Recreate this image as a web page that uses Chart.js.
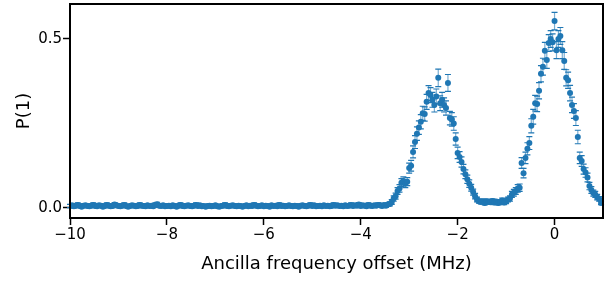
<!DOCTYPE html>
<html>
<head>
<meta charset="utf-8">
<script src="https://cdn.jsdelivr.net/npm/chart.js@4/dist/chart.umd.min.js"></script>
<style>
  body { margin: 0; background: #fff; }
</style>
</head>
<body>
<canvas id="myChart" width="616" height="282"></canvas>
<script>
// ancilla frequency offset (MHz), one row per 0.4 MHz
const freqMHz = [
  -10.00, -9.96, -9.92, -9.88, -9.84, -9.80, -9.76, -9.72, -9.68, -9.64,
  -9.60, -9.56, -9.52, -9.48, -9.44, -9.40, -9.36, -9.32, -9.28, -9.24,
  -9.20, -9.16, -9.12, -9.08, -9.04, -9.00, -8.96, -8.92, -8.88, -8.84,
  -8.80, -8.76, -8.72, -8.68, -8.64, -8.60, -8.56, -8.52, -8.48, -8.44,
  -8.40, -8.36, -8.32, -8.28, -8.24, -8.20, -8.16, -8.12, -8.08, -8.04,
  -8.00, -7.96, -7.92, -7.88, -7.84, -7.80, -7.76, -7.72, -7.68, -7.64,
  -7.60, -7.56, -7.52, -7.48, -7.44, -7.40, -7.36, -7.32, -7.28, -7.24,
  -7.20, -7.16, -7.12, -7.08, -7.04, -7.00, -6.96, -6.92, -6.88, -6.84,
  -6.80, -6.76, -6.72, -6.68, -6.64, -6.60, -6.56, -6.52, -6.48, -6.44,
  -6.40, -6.36, -6.32, -6.28, -6.24, -6.20, -6.16, -6.12, -6.08, -6.04,
  -6.00, -5.96, -5.92, -5.88, -5.84, -5.80, -5.76, -5.72, -5.68, -5.64,
  -5.60, -5.56, -5.52, -5.48, -5.44, -5.40, -5.36, -5.32, -5.28, -5.24,
  -5.20, -5.16, -5.12, -5.08, -5.04, -5.00, -4.96, -4.92, -4.88, -4.84,
  -4.80, -4.76, -4.72, -4.68, -4.64, -4.60, -4.56, -4.52, -4.48, -4.44,
  -4.40, -4.36, -4.32, -4.28, -4.24, -4.20, -4.16, -4.12, -4.08, -4.04,
  -4.00, -3.96, -3.92, -3.88, -3.84, -3.80, -3.76, -3.72, -3.68, -3.64,
  -3.60, -3.56, -3.52, -3.48, -3.44, -3.40, -3.36, -3.32, -3.28, -3.24,
  -3.20, -3.16, -3.12, -3.08, -3.04, -3.00, -2.96, -2.92, -2.88, -2.84,
  -2.80, -2.76, -2.72, -2.68, -2.64, -2.60, -2.56, -2.52, -2.48, -2.44,
  -2.40, -2.36, -2.32, -2.28, -2.24, -2.20, -2.16, -2.12, -2.08, -2.04,
  -2.00, -1.96, -1.92, -1.88, -1.84, -1.80, -1.76, -1.72, -1.68, -1.64,
  -1.60, -1.56, -1.52, -1.48, -1.44, -1.40, -1.36, -1.32, -1.28, -1.24,
  -1.20, -1.16, -1.12, -1.08, -1.04, -1.00, -0.96, -0.92, -0.88, -0.84,
  -0.80, -0.76, -0.72, -0.68, -0.64, -0.60, -0.56, -0.52, -0.48, -0.44,
  -0.40, -0.36, -0.32, -0.28, -0.24, -0.20, -0.16, -0.12, -0.08, -0.04,
  0.00, 0.04, 0.08, 0.12, 0.16, 0.20, 0.24, 0.28, 0.32, 0.36,
  0.40, 0.44, 0.48, 0.52, 0.56, 0.60, 0.64, 0.68, 0.72, 0.76,
  0.80, 0.84, 0.88, 0.92, 0.96
];

// measured excited-state probability P(1)
const p1 = [
  0.006, 0.008, 0.005, 0.007, 0.009, 0.006, 0.004, 0.007, 0.008, 0.006,
  0.005, 0.007, 0.009, 0.006, 0.005, 0.008, 0.007, 0.004, 0.006, 0.009,
  0.007, 0.005, 0.006, 0.010, 0.008, 0.006, 0.005, 0.007, 0.009, 0.006,
  0.004, 0.006, 0.008, 0.007, 0.005, 0.006, 0.009, 0.007, 0.006, 0.005,
  0.008, 0.006, 0.007, 0.005, 0.009, 0.011, 0.007, 0.006, 0.008, 0.005,
  0.006, 0.007, 0.005, 0.008, 0.006, 0.004, 0.007, 0.009, 0.006, 0.005,
  0.007, 0.008, 0.006, 0.005, 0.007, 0.009, 0.006, 0.008, 0.005, 0.006,
  0.004, 0.006, 0.007, 0.005, 0.006, 0.008, 0.005, 0.004, 0.006, 0.007,
  0.009, 0.006, 0.005, 0.007, 0.008, 0.006, 0.005, 0.007, 0.006, 0.004,
  0.006, 0.008, 0.005, 0.007, 0.006, 0.009, 0.007, 0.005, 0.006, 0.008,
  0.005, 0.007, 0.006, 0.004, 0.008, 0.006, 0.007, 0.005, 0.009, 0.006,
  0.007, 0.005, 0.006, 0.008, 0.006, 0.005, 0.007, 0.006, 0.004, 0.007,
  0.008, 0.006, 0.005, 0.007, 0.009, 0.006, 0.008, 0.005, 0.006, 0.007,
  0.005, 0.008, 0.006, 0.007, 0.005, 0.006, 0.009, 0.007, 0.008, 0.006,
  0.007, 0.005, 0.008, 0.006, 0.007, 0.009, 0.006, 0.008, 0.007, 0.010,
  0.006, 0.008, 0.007, 0.005, 0.009, 0.007, 0.006, 0.008, 0.007, 0.009,
  0.008, 0.006, 0.009, 0.007, 0.010, 0.012, 0.018, 0.028, 0.035, 0.050,
  0.058, 0.075, 0.080, 0.072, 0.078, 0.118, 0.125, 0.166, 0.195, 0.220,
  0.238, 0.255, 0.280, 0.278, 0.314, 0.340, 0.334, 0.320, 0.305, 0.330,
  0.385, 0.310, 0.320, 0.305, 0.296, 0.370, 0.266, 0.262, 0.250, 0.204,
  0.163, 0.151, 0.136, 0.115, 0.100, 0.085, 0.072, 0.060, 0.047, 0.035,
  0.025, 0.020, 0.018, 0.020, 0.015, 0.020, 0.018, 0.017, 0.021, 0.016,
  0.019, 0.015, 0.018, 0.022, 0.016, 0.020, 0.025, 0.028, 0.040, 0.045,
  0.050, 0.058, 0.060, 0.133, 0.103, 0.148, 0.175, 0.192, 0.243, 0.270,
  0.310, 0.308, 0.347, 0.397, 0.418, 0.465, 0.438, 0.488, 0.500, 0.490,
  0.553, 0.467, 0.500, 0.509, 0.467, 0.435, 0.385, 0.378, 0.340, 0.305,
  0.287, 0.266, 0.210, 0.148, 0.139, 0.115, 0.105, 0.090, 0.065, 0.053,
  0.044, 0.040, 0.032, 0.027, 0.015
];

// one-sigma error on P(1)
const p1Err = [
  0.005, 0.004, 0.005, 0.005, 0.006, 0.005, 0.004, 0.005, 0.005, 0.005,
  0.004, 0.005, 0.006, 0.005, 0.004, 0.005, 0.005, 0.004, 0.005, 0.006,
  0.005, 0.004, 0.005, 0.006, 0.005, 0.005, 0.004, 0.005, 0.006, 0.005,
  0.004, 0.005, 0.005, 0.005, 0.004, 0.005, 0.006, 0.005, 0.005, 0.004,
  0.005, 0.005, 0.005, 0.004, 0.006, 0.006, 0.005, 0.005, 0.005, 0.004,
  0.005, 0.005, 0.004, 0.005, 0.005, 0.004, 0.005, 0.006, 0.005, 0.004,
  0.005, 0.005, 0.005, 0.004, 0.005, 0.006, 0.005, 0.005, 0.004, 0.005,
  0.004, 0.005, 0.005, 0.004, 0.005, 0.005, 0.004, 0.004, 0.005, 0.005,
  0.006, 0.005, 0.004, 0.005, 0.005, 0.005, 0.004, 0.005, 0.005, 0.004,
  0.005, 0.005, 0.004, 0.005, 0.005, 0.006, 0.005, 0.004, 0.005, 0.005,
  0.004, 0.005, 0.005, 0.004, 0.005, 0.005, 0.005, 0.004, 0.006, 0.005,
  0.005, 0.004, 0.005, 0.005, 0.005, 0.004, 0.005, 0.005, 0.004, 0.005,
  0.005, 0.005, 0.004, 0.005, 0.006, 0.005, 0.005, 0.004, 0.005, 0.005,
  0.004, 0.005, 0.005, 0.005, 0.004, 0.005, 0.006, 0.005, 0.005, 0.005,
  0.005, 0.004, 0.005, 0.005, 0.005, 0.006, 0.005, 0.005, 0.005, 0.006,
  0.005, 0.005, 0.005, 0.004, 0.006, 0.005, 0.005, 0.005, 0.005, 0.006,
  0.005, 0.005, 0.005, 0.005, 0.005, 0.006, 0.007, 0.008, 0.009, 0.010,
  0.011, 0.012, 0.012, 0.012, 0.012, 0.015, 0.016, 0.018, 0.019, 0.020,
  0.020, 0.021, 0.021, 0.021, 0.022, 0.022, 0.022, 0.022, 0.021, 0.022,
  0.026, 0.022, 0.022, 0.021, 0.021, 0.025, 0.020, 0.020, 0.020, 0.018,
  0.017, 0.016, 0.015, 0.014, 0.013, 0.012, 0.011, 0.010, 0.009, 0.008,
  0.007, 0.006, 0.006, 0.006, 0.006, 0.006, 0.006, 0.006, 0.006, 0.006,
  0.006, 0.006, 0.006, 0.007, 0.006, 0.007, 0.007, 0.008, 0.009, 0.010,
  0.010, 0.011, 0.011, 0.016, 0.014, 0.017, 0.018, 0.019, 0.021, 0.022,
  0.023, 0.023, 0.024, 0.024, 0.025, 0.025, 0.025, 0.025, 0.025, 0.025,
  0.026, 0.025, 0.025, 0.025, 0.025, 0.025, 0.024, 0.024, 0.023, 0.023,
  0.022, 0.022, 0.020, 0.017, 0.016, 0.015, 0.014, 0.013, 0.011, 0.010,
  0.009, 0.009, 0.008, 0.007, 0.005
];

const xTicks = [-10, -8, -6, -4, -2, 0];
const yTicks = [0.0, 0.5];

const blue = '#1f77b4';
const fontFamily = "'DejaVu Sans', sans-serif";

//error bars drawn under the markers
const errorBars = {
  id: 'errorBars',
  beforeDatasetsDraw(chart) {
    const ctx = chart.ctx;
    const xs = chart.scales.x, ys = chart.scales.y;
    ctx.save();
    ctx.lineWidth = 1.2;
    for (let i = 0; i < freqMHz.length; i++) {
      const px = xs.getPixelForValue(freqMHz[i]);
      const top = ys.getPixelForValue(p1[i] + p1Err[i]);
      const bot = ys.getPixelForValue(p1[i] - p1Err[i]);
      ctx.strokeStyle = 'rgba(31,119,180,0.6)';
      ctx.beginPath();
      ctx.moveTo(px, top); ctx.lineTo(px, bot);
      ctx.stroke();
      ctx.strokeStyle = blue;
      ctx.beginPath();
      ctx.moveTo(px - 3, top); ctx.lineTo(px + 3, top);
      ctx.moveTo(px - 3, bot); ctx.lineTo(px + 3, bot);
      ctx.stroke();
    }
    ctx.restore();
  }
};

//closed box round the plot area
const frame = {
  id: 'frame',
  afterDraw(chart) {
    const a = chart.chartArea, ctx = chart.ctx;
    ctx.save();
    ctx.strokeStyle = '#000';
    ctx.lineWidth = 2;
    ctx.strokeRect(a.left, a.top, a.right - a.left, a.bottom - a.top);
    ctx.restore();
  }
};

const ctx = document.getElementById('myChart').getContext('2d');

const myChart = new Chart(ctx, {
  type: 'scatter',
  data: {
    datasets: [{
      data: freqMHz.map((f, i) => ({x: f, y: p1[i]})),
      backgroundColor: blue,
      borderWidth: 0,
      pointRadius: 3,
      pointHoverRadius: 3
    }]
  },
  options: {
    responsive: false,
    animation: false,
    events: [],
    layout: {padding: {left: 0, top: 4, right: 13, bottom: 0}},
    plugins: {legend: {display: false}, tooltip: {enabled: false}},
    scales: {
      x: {
        type: 'linear',
        min: -10,
        max: 1,
        afterBuildTicks: s => { s.ticks = xTicks.map(v => ({value: v})); },
        afterFit: s => { s.height = 64; s.paddingLeft = 0; s.paddingRight = 0; },
        ticks: {
          color: '#000',
          padding: 1,
          font: {family: fontFamily, size: 15},
          callback: v => (v < 0 ? '\u2212' : '') + Math.abs(v)
        },
        grid: {drawOnChartArea: false, drawTicks: true, tickLength: 7, tickWidth: 1.5, tickColor: '#000'},
        border: {display: false},
        title: {
          display: true,
          text: 'Ancilla frequency offset (MHz)',
          color: '#000',
          font: {family: fontFamily, size: 18},
          padding: {top: 0, bottom: 7}
        }
      },
      y: {
        type: 'linear',
        min: -0.0296,
        max: 0.6035,
        afterBuildTicks: s => { s.ticks = yTicks.map(v => ({value: v})); },
        afterFit: s => { s.width = 70; s.paddingTop = 0; s.paddingBottom = 0; },
        ticks: {
          color: '#000',
          padding: 1,
          font: {family: fontFamily, size: 15},
          callback: v => v.toFixed(1)
        },
        grid: {drawOnChartArea: false, drawTicks: true, tickLength: 7, tickWidth: 1.5, tickColor: '#000'},
        border: {display: false},
        title: {
          display: true,
          text: 'P(1)',
          color: '#000',
          font: {family: fontFamily, size: 18},
          padding: {top: 14, bottom: 0}
        }
      }
    }
  },
  plugins: [errorBars, frame]
});
</script>
</body>
</html>
